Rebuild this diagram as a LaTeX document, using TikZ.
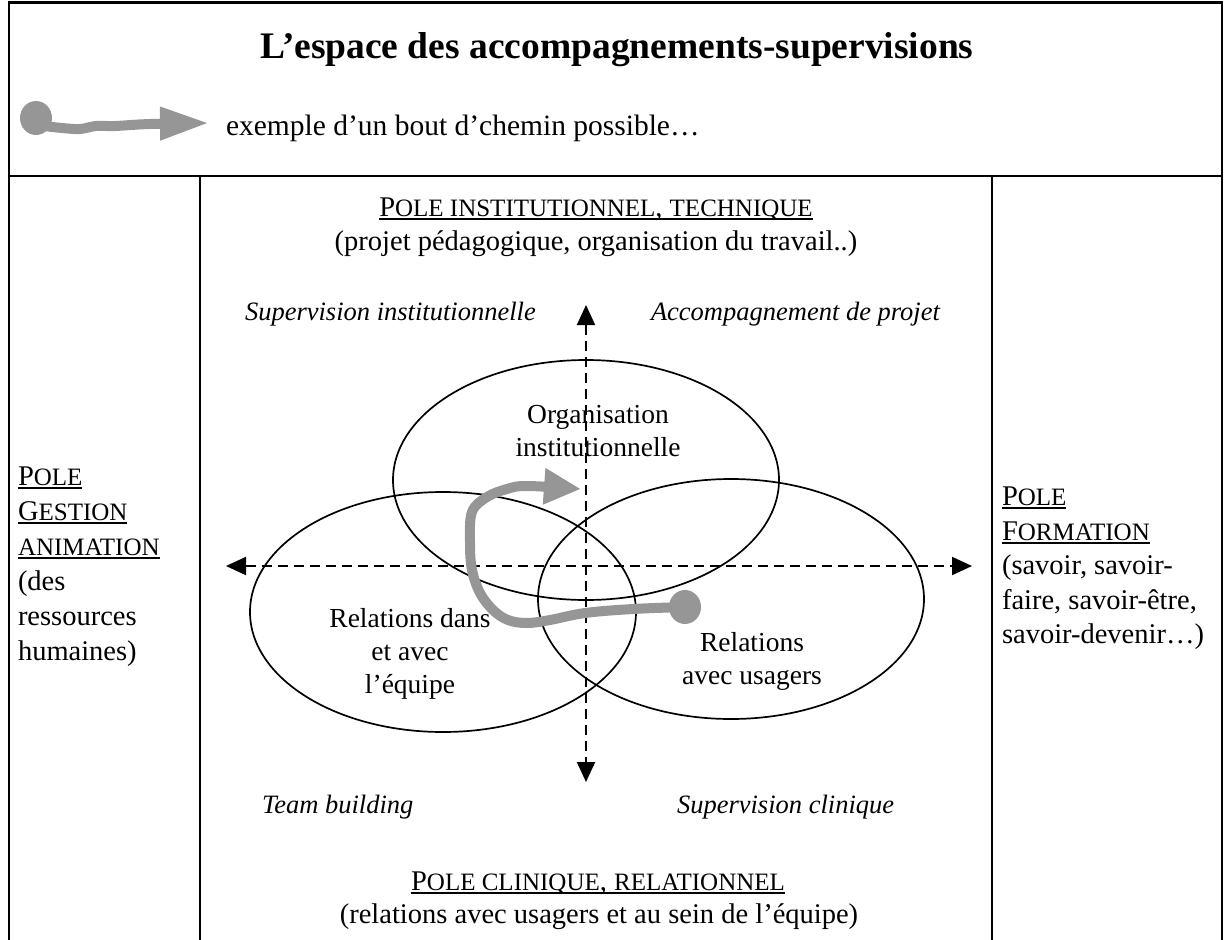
\documentclass[tikz,border=0pt]{standalone}
\usepackage{fontspec}
\newfontfamily\tnr{Liberation Serif}
\usetikzlibrary{arrows.meta,shapes.geometric}
\definecolor{pathgray}{RGB}{150,150,150}
\newcommand\sck[1]{{\fontsize{25}{29}\selectfont #1}}
\newcommand\ulx[1]{\setbox0=\hbox{#1}\leavevmode\rlap{\rule[-4pt]{\wd0}{2.4pt}}\box0}
\begin{document}
\begin{tikzpicture}[x=1pt,y=-1pt,
  every node/.style={inner sep=0pt,outer sep=0pt},
  frame/.style={line width=2.7pt,line cap=rect},
  bodytxt/.style={font=\tnr\fontsize{28.5}{34}\selectfont,anchor=base},
  lefttxt/.style={bodytxt,anchor=base west},
  itl/.style={font=\tnr\itshape\fontsize{26.5}{32}\selectfont,anchor=base west},
  ellab/.style={font=\tnr\fontsize{27.5}{33}\selectfont,anchor=base},
  zone/.style={draw,ellipse,line width=1.7pt,minimum width=386pt,minimum height=240pt,inner sep=0pt},
  axis/.style={line width=2pt,dash pattern=on 10pt off 6pt,{Triangle[length=20pt,width=18pt]}-{Triangle[length=20pt,width=18pt]}},
  gpath/.style={draw=pathgray,line width=10pt,line cap=round,line join=round},
  dotnode/.style={fill=pathgray,ellipse,minimum width=32pt,minimum height=34pt}]
\useasboundingbox (0,0) rectangle (1224,940);
% frame
\draw[frame] (9,940) -- (9,2.5) -- (1222,2.5) -- (1222,940);
\draw[frame] (9,176) -- (1222,176);
\draw[frame] (200,176) -- (200,940);
\draw[frame] (992,176) -- (992,940);
% header
\node[font=\tnr\bfseries\fontsize{37.5}{40}\selectfont,anchor=base] (title) at (617,58) {L’espace des accompagnements-supervisions};
\node[font=\tnr\fontsize{29.5}{34}\selectfont,anchor=base west] (legtxt) at (226,135) {exemple d’un bout d’chemin possible…};
\node[dotnode] (legdot) at (36,118) {};
\coordinate (legtip) at (209,123);
\draw[gpath,-{Triangle[length=49pt,width=31pt]}] plot[smooth,tension=0.6] coordinates {(44,126) (62,128) (80,129) (96,126) (115,126) (150,124) (legtip)};
% ellipses
\node[zone] (eTop) at (586,480) {};
\node[zone] (eLeft) at (443,612) {};
\node[zone] (eRight) at (731,599) {};
% axes
\coordinate (axL) at (226,566);
\coordinate (axR) at (972,566);
\coordinate (axT) at (586,305);
\coordinate (axB) at (586,782);
\draw[axis] (axL) -- (axR);
\draw[axis] (axT) -- (axB);
% pole texts
\node[bodytxt] (ptop) at (596,216) {\ulx{P\sck{OLE INSTITUTIONNEL}, \sck{TECHNIQUE}}};
\node[bodytxt] (ptop2) at (596,250) {(projet pédagogique, organisation du travail..)};
\node[bodytxt] (pbot) at (598,890) {\ulx{P\sck{OLE CLINIQUE}, \sck{RELATIONNEL}}};
\node[bodytxt] (pbot2) at (599,923) {(relations avec usagers et au sein de l’équipe)};
\node[lefttxt] (lp1) at (18,485) {\ulx{P\sck{OLE}}};
\node[lefttxt] (lp2) at (18,520) {\ulx{G\sck{ESTION}}};
\node[lefttxt] (lp3) at (18,555) {\ulx{\sck{ANIMATION}}};
\node[lefttxt] (lp4) at (18,590) {(des};
\node[lefttxt] (lp5) at (18,625) {ressources};
\node[lefttxt] (lp6) at (18,660) {humaines)};
\node[lefttxt] (rp1) at (1002,505) {\ulx{P\sck{OLE}}};
\node[lefttxt] (rp2) at (1002,540) {\ulx{F\sck{ORMATION}}};
\node[lefttxt] (rp3) at (1002,574) {(savoir, savoir-};
\node[lefttxt] (rp4) at (1002,609) {faire, savoir-être,};
\node[lefttxt] (rp5) at (1002,643) {savoir-devenir…)};
% quadrant labels
\node[itl] (q1) at (245,320) {Supervision institutionnelle};
\node[itl] (q2) at (651,320) {Accompagnement de projet};
\node[itl] (q3) at (262,813) {Team building};
\node[itl] (q4) at (677,813) {Supervision clinique};
% ellipse labels
\node[ellab] (lt1) at (598,423) {Organisation};
\node[ellab] (lt2) at (598,456) {institutionnelle};
\node[ellab] (ll1) at (410,627) {Relations dans};
\node[ellab] (ll2) at (410,660) {et avec};
\node[ellab] (ll3) at (410,693) {l’équipe};
\node[ellab] (lr1) at (752,651) {Relations};
\node[ellab] (lr2) at (752,684) {avec usagers};
% example path
\node[dotnode] (gdot) at (685,607) {};
\coordinate (gtip) at (581,489);
\draw[gpath,-{Triangle[length=37pt,width=34pt]}] plot[smooth,tension=0.6] coordinates {(gdot.center) (633,609) (585,613) (550,620) (527,623) (508,620) (493,610) (480,593) (472,570) (470,543) (472,512) (487,497) (507,489) (527,486) (gtip)};
\end{tikzpicture}
\end{document}
